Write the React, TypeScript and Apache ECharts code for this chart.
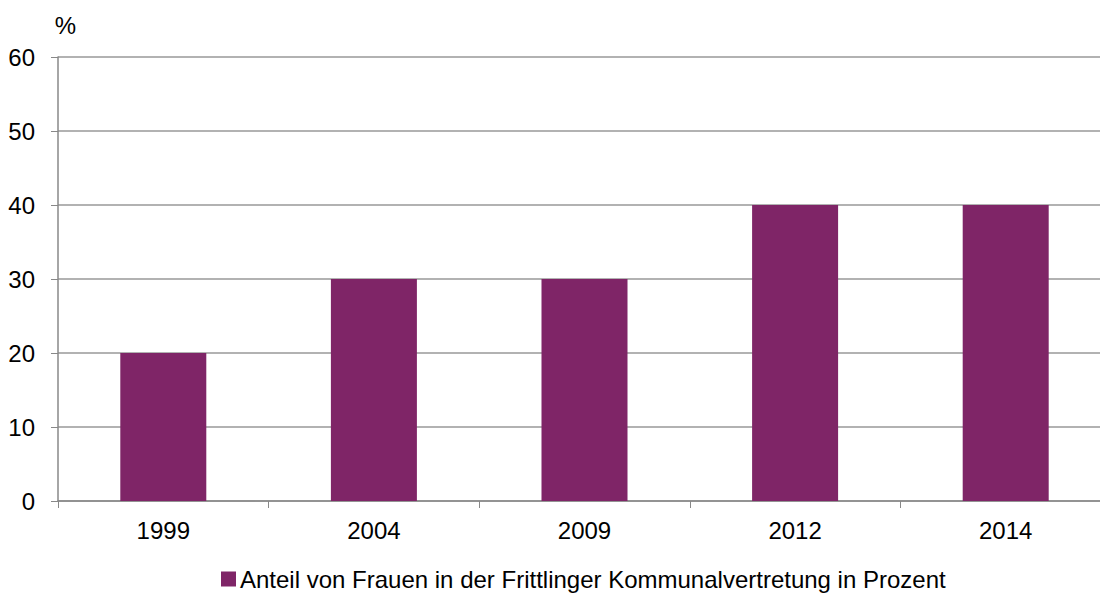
import React, { useEffect, useRef } from "react";
import * as echarts from "echarts";

const categories = ["1999", "2004", "2009", "2012", "2014"];
const values = [20, 30, 30, 40, 40];
const seriesName = "Anteil von Frauen in der Frittlinger Kommunalvertretung in Prozent";
const yUnit = "%";

export default function App() {
  const ref = useRef<HTMLDivElement>(null);
  useEffect(() => {
    const chart = echarts.init(ref.current!, null, { renderer: "svg" });
    const font = "Liberation Sans, Arial, sans-serif";
    chart.setOption({
      animation: false,
      textStyle: { fontFamily: font },
      grid: { left: 58, right: 0, top: 57, bottom: 95 },
      legend: {
        top: 566,
        left: 221,
        padding: 0,
        data: [seriesName],
        icon: "rect",
        itemWidth: 15,
        itemHeight: 15,
        itemGap: 2,
        textStyle: { fontSize: 24, lineHeight: 26, color: "#000", fontFamily: font, padding: [0, 0, 0, -1] },
      },
      xAxis: {
        type: "category",
        data: categories,
        axisLine: { lineStyle: { color: "#888", width: 1.5 } },
        axisTick: { show: true, length: 7, lineStyle: { color: "#888" } },
        axisLabel: { fontSize: 24, color: "#000", margin: 17, fontFamily: font },
      },
      yAxis: {
        type: "value",
        min: 0,
        max: 60,
        interval: 10,
        name: yUnit,
        nameLocation: "end",
        nameGap: 20,
        nameTextStyle: { fontSize: 24, color: "#000", align: "center", padding: [0, 0, 0, 15], fontFamily: font },
        axisLine: { show: true, lineStyle: { color: "#888", width: 1.5 } },
        axisTick: { show: true, length: 7, lineStyle: { color: "#888" } },
        axisLabel: { fontSize: 24, color: "#000", margin: 23, fontFamily: font },
        splitLine: { lineStyle: { color: "#999", width: 1.5 } },
      },
      series: [
        {
          name: seriesName,
          type: "bar",
          data: values,
          barWidth: 86,
          itemStyle: { color: "#7F2567" },
        },
      ],
    });
    return () => chart.dispose();
  }, []);
  return (
    <div style={{ position: "absolute", left: 0, top: 0, width: 1100, height: 596, overflow: "hidden" }}>
      <div ref={ref} style={{ width: 1111, height: 596 }} />
    </div>
  );
}
